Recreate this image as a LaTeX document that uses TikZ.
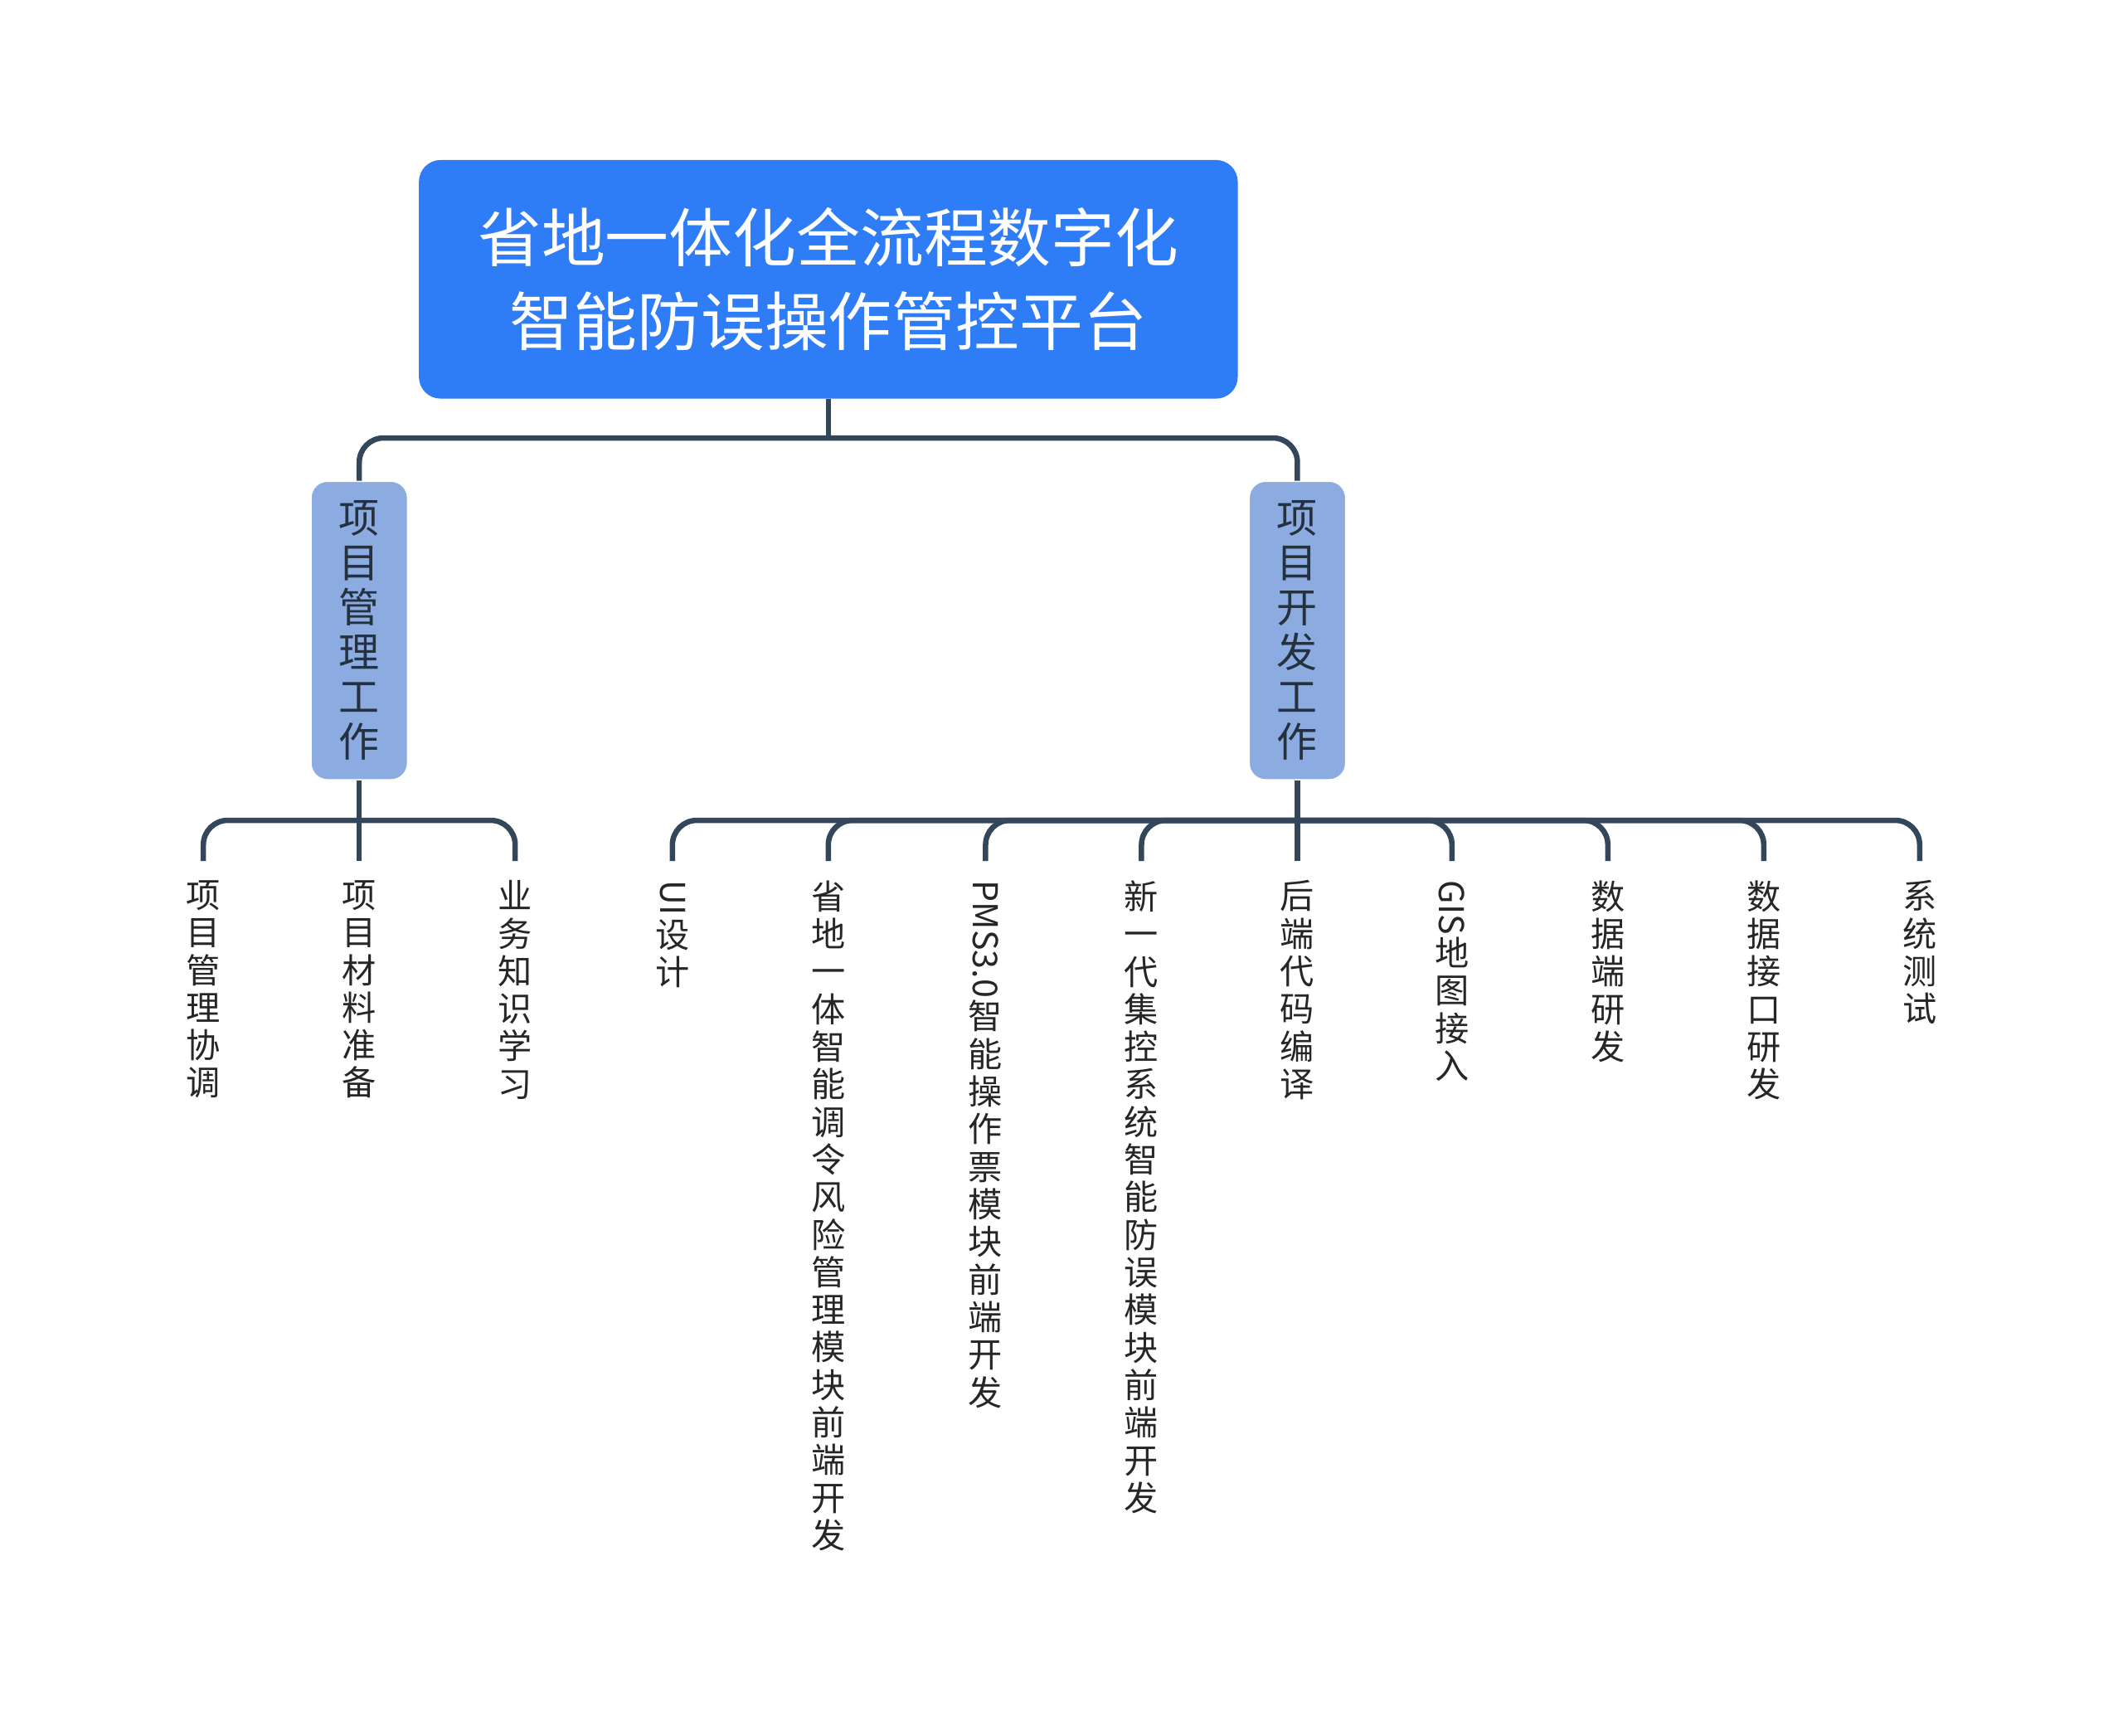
\documentclass[tikz,border=0pt]{standalone}
\usepackage{fontspec}
\setmainfont{Noto Sans CJK SC}
\usetikzlibrary{positioning}
\makeatletter
% stack characters top to bottom, latin groups turned
\newcommand\turned[1]{\rotatebox[origin=c]{-90}{#1}}
\newcommand\vstack[1]{\vbox{\baselineskip=1.1em\lineskiplimit=0pt\lineskip=1pt
  \@tfor\vs@c:=#1\do{\hbox to 1.2em{\hss\vs@c\hss}}}}
\makeatother
\definecolor{rootblue}{HTML}{2F7DF6}
\definecolor{subblue}{HTML}{8CABE0}
\definecolor{linegray}{HTML}{34465A}
\begin{document}
\begin{tikzpicture}[
    x=0.5pt, y=-0.5pt,
    root box/.style={draw=none, fill=rootblue, rounded corners=8pt, text=white,
      minimum width=302pt, minimum height=88pt, align=center,
      font=\fontsize{23.5}{31}\selectfont},
    sub box/.style={draw=white, fill=subblue, rounded corners=6pt, text=linegray!70!black,
      minimum width=35.5pt, minimum height=110pt, font=\fontsize{15}{16}\selectfont},
    leaf/.style={anchor=north, inner sep=7pt, text=black!85, font=\fontsize{12.6}{14}\selectfont},
    conn/.style={draw=linegray, line width=2pt, rounded corners=9pt},
    ]
\useasboundingbox (0,0) rectangle (1566,1280);
\node[root box] (root) at (611,206) {省地一体化全流程数字化\\智能防误操作管控平台};
\node[sub box] (mgmt) at (265,465) {\vstack{项目管理工作}};
\node[sub box] (dev) at (957,465) {\vstack{项目开发工作}};
\coordinate (top) at (611,323);
\draw[conn] (root.south) -- (top);
\draw[conn] (mgmt.north) |- (top) -| (dev.north);
% leaves of the management branch
\foreach \x/\t [count=\i] in {150/项目管理协调, 265/项目材料准备, 380/业务知识学习} {
  \node[leaf] (m\i) at (\x,635) {\expandafter\vstack\expandafter{\t}};
}
\draw[conn] (mgmt.south) -- (m2.north);
\draw[conn] (m1.north) |- (mgmt.south |- 0,605) -| (m3.north);
% leaves of the development branch
\foreach \x/\t [count=\i] in {496/{{\turned{UI}}设计}, 611/省地一体智能调令风险管理模块前端开发,
    727/{{\turned{PMS3.0}}智能操作票模块前端开发}, 842/新一代集控系统智能防误模块前端开发,
    957/后端代码编译, 1071/{{\turned{GIS}}地图接入}, 1186/数据端研发, 1301/数据接口研发,
    1416/系统测试} {
  \node[leaf] (d\i) at (\x,635) {\expandafter\vstack\expandafter{\t}};
}
\draw[conn] (d1.north) |- (dev.south |- 0,605) -| (d9.north);
\foreach \i in {2,3,4,6,7,8} {
  \draw[conn] (d\i.north) |- (dev.south |- 0,605);
}
\draw[conn] (dev.south) -- (d5.north);
\end{tikzpicture}
\end{document}
